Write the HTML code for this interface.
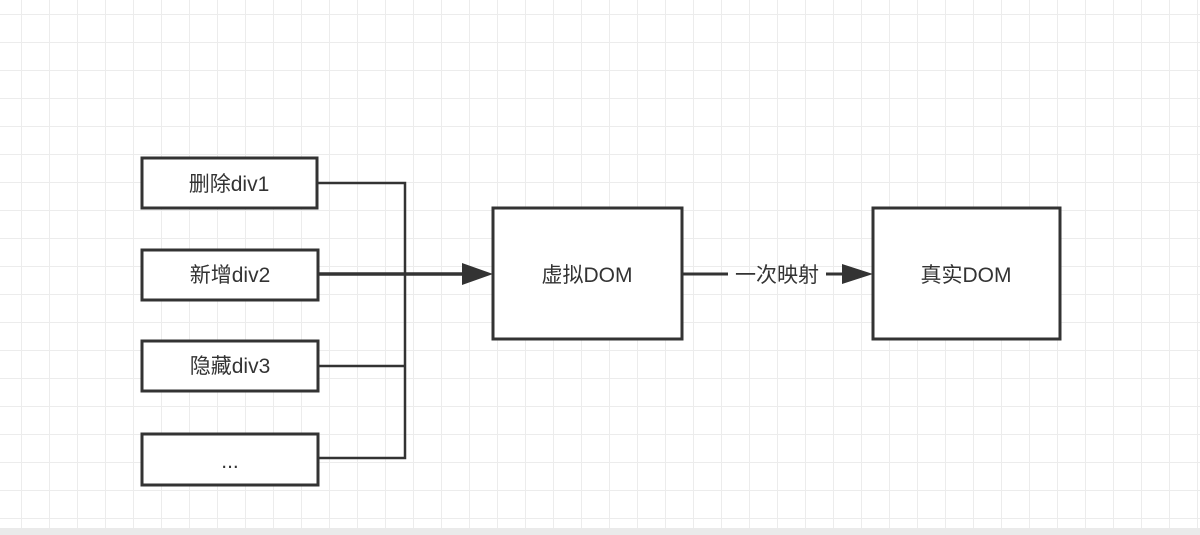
<!DOCTYPE html>
<html><head><meta charset="utf-8"><style>
body{margin:0;width:1200px;height:535px;overflow:hidden;background:#fff}
svg{display:block}
text{font-family:"Liberation Sans","Noto Sans CJK SC",sans-serif;font-size:21px;fill:#333}
</style></head><body>
<svg width="1200" height="535" viewBox="0 0 1200 535">
<defs>
<pattern id="g" x="21" y="14" width="28" height="28" patternUnits="userSpaceOnUse">
<path d="M0 0H28M0 0V28" stroke="#ececec" stroke-width="2" fill="none"/>
</pattern>
</defs>
<rect x="0" y="0" width="1200" height="528" fill="url(#g)"/>
<rect x="0" y="528" width="1200" height="7" fill="#eaeaea"/>
<g fill="none" stroke="#333" stroke-width="2.5">
<path d="M318 183H405V458H318"/>
<path d="M318 366H405"/>
<path d="M318 274H465" stroke-width="3.5"/>
<path d="M682 274H728M826 274H845" stroke-width="3"/>
</g>
<polygon points="462,263 493,274 462,285" fill="#333"/>
<polygon points="842,264 873,274 842,284" fill="#333"/>
<g fill="#fff" stroke="#333" stroke-width="3">
<rect x="142" y="158" width="175" height="50"/>
<rect x="142" y="250" width="176" height="50"/>
<rect x="142" y="341" width="176" height="50"/>
<rect x="142" y="434" width="176" height="51"/>
<rect x="493" y="208" width="189" height="131"/>
<rect x="873" y="208" width="187" height="131"/>
</g>
<g text-anchor="middle">
<text x="229" y="191">删除div1</text>
<text x="230" y="282">新增div2</text>
<text x="230" y="373">隐藏div3</text>
<text x="230" y="468">...</text>
<text x="587" y="282">虚拟DOM</text>
<text x="777" y="282">一次映射</text>
<text x="966" y="282">真实DOM</text>
</g>
</svg>
</body></html>
